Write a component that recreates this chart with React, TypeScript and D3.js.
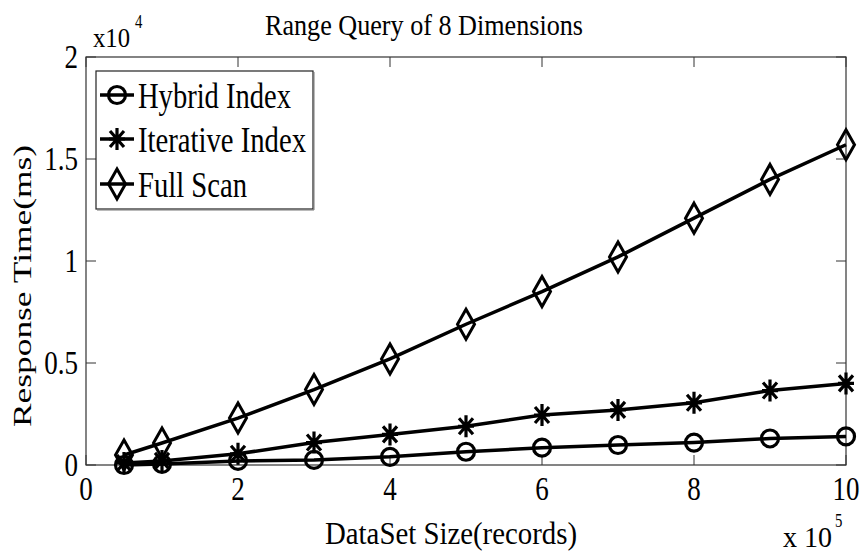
import { scaleLinear, line } from 'd3'

// Range query response time vs dataset size, 8 dimensions.
// Matlab-style figure: boxed axes, inward ticks, black lines with markers.

const sizes = [0.5, 1, 2, 3, 4, 5, 6, 7, 8, 9, 10] // x 10^5 records
const hybrid = [0.0, 0.005, 0.02, 0.025, 0.04, 0.065, 0.085, 0.098, 0.11, 0.13, 0.14] // x 10^4 ms
const iterative = [0.01, 0.02, 0.055, 0.11, 0.15, 0.19, 0.245, 0.27, 0.305, 0.365, 0.4]
const fullScan = [0.049, 0.108, 0.23, 0.37, 0.52, 0.69, 0.85, 1.02, 1.21, 1.4, 1.57]
const xTicks = [0, 2, 4, 6, 8, 10]
const yTicks = [0, 0.5, 1, 1.5, 2]
const yTickLabels = ['0', '0.5', '1', '1.5', '2']

const FONT = 'Liberation Serif'
const INK = '#000'
const SX = 0.82 // the figure is squeezed horizontally

type Marker = 'circle' | 'star' | 'diamond'

const series: { name: string; values: number[]; marker: Marker; w: number }[] = [
  { name: 'Hybrid Index', values: hybrid, marker: 'circle', w: 153 },
  { name: 'Iterative Index', values: iterative, marker: 'star', w: 168 },
  { name: 'Full Scan', values: fullScan, marker: 'diamond', w: 109 },
]

function Txt({
  x,
  y,
  size,
  anchor = 'start',
  rotate = 0,
  sx = SX,
  w,
  children,
}: {
  x: number
  y: number
  size: number
  anchor?: 'start' | 'middle' | 'end'
  rotate?: number
  sx?: number
  w?: number
  children: React.ReactNode
}) {
  // with a fixed length the glyphs are squeezed by textLength instead
  const scale = w ? '' : ` scale(${sx},1)`
  const tf = rotate ? `translate(${x},${y}) rotate(${rotate})` : `translate(${x},${y})${scale}`
  return (
    <text
      transform={tf}
      textAnchor={anchor}
      fontSize={size}
      fontFamily={FONT}
      fill={INK}
      textLength={w}
      lengthAdjust={w ? 'spacingAndGlyphs' : undefined}
    >
      {children}
    </text>
  )
}

function MarkerShape({ kind, x, y }: { kind: Marker; x: number; y: number }) {
  if (kind === 'circle')
    return <circle cx={x} cy={y} r={8.5} fill="none" stroke={INK} strokeWidth={3.2} />
  if (kind === 'diamond')
    return (
      <path
        d={`M${x},${y - 15}L${x + 8.5},${y}L${x},${y + 15}L${x - 8.5},${y}Z`}
        fill="none"
        stroke={INK}
        strokeWidth={3}
      />
    )
  return (
    <path
      d={`M${x},${y - 11}V${y + 11}M${x - 8},${y}H${x + 8}M${x - 7},${y - 8}L${x + 7},${y + 8}M${x - 7},${y + 8}L${x + 7},${y - 8}`}
      stroke={INK}
      strokeWidth={3.2}
    />
  )
}

export default function App() {
  const width = 860
  const height = 556
  const m = { left: 86, right: 14, top: 57, bottom: 91 }
  const x = scaleLinear().domain([0, 10]).range([m.left, width - m.right])
  const y = scaleLinear().domain([0, 2]).range([height - m.bottom, m.top])
  const x0 = x(0)
  const x1 = x(10)
  const y0 = y(0)
  const y1 = y(2)
  const tick = 10

  const path = line<number>()
    .x((_, i) => x(sizes[i]))
    .y((d) => y(d))

  const legend = { x: 96, y: 71, w: 217, h: 138 }
  const rowY = [95, 139, 184]

  return (
    <svg
      width={width}
      height={height}
      viewBox={`0 0 ${width} ${height}`}
      style={{ display: 'block', position: 'absolute', left: 0, top: 0, background: '#fff' }}
    >
      <Txt x={424} y={35} size={30} anchor="middle" w={318}>
        Range Query of 8 Dimensions
      </Txt>

      {/* axes box */}
      <rect x={x0} y={y1} width={x1 - x0} height={y0 - y1} fill="none" stroke="#333" strokeWidth={1.2} />
      {xTicks.map((t) => (
        <g key={`x${t}`}>
          <line x1={x(t)} x2={x(t)} y1={y0} y2={y0 - tick} stroke="#333" strokeWidth={1} />
          <line x1={x(t)} x2={x(t)} y1={y1} y2={y1 + tick} stroke="#333" strokeWidth={1} />
          <Txt x={x(t)} y={500} size={33} anchor="middle">
            {t}
          </Txt>
        </g>
      ))}
      {yTicks.map((t, i) => (
        <g key={`y${t}`}>
          <line x1={x0} x2={x0 + tick} y1={y(t)} y2={y(t)} stroke="#333" strokeWidth={1} />
          <line x1={x1} x2={x1 - tick} y1={y(t)} y2={y(t)} stroke="#333" strokeWidth={1} />
          <Txt x={78} y={y(t) + 11} size={33} anchor="end">
            {yTickLabels[i]}
          </Txt>
        </g>
      ))}

      {/* exponent labels */}
      <Txt x={93} y={47} size={27} w={37}>
        x10
      </Txt>
      <Txt x={135} y={28} size={18}>
        4
      </Txt>
      <Txt x={783} y={547} size={30} w={49}>
        x 10
      </Txt>
      <Txt x={835} y={527} size={18}>
        5
      </Txt>

      {/* axis titles */}
      <Txt x={451} y={544} size={31} anchor="middle" w={252}>
        DataSet Size(records)
      </Txt>
      <text
        transform="translate(31,286) rotate(-90) scale(1,0.76)"
        textAnchor="middle"
        fontSize={34}
        fontFamily={FONT}
        fill={INK}
        textLength={282}
        lengthAdjust="spacingAndGlyphs"
      >
        Response Time(ms)
      </text>

      {/* series */}
      {series.map((s) => (
        <g key={s.name}>
          <path d={path(s.values) ?? ''} fill="none" stroke={INK} strokeWidth={3.5} strokeLinejoin="round" />
          {s.values.map((v, i) => (
            <MarkerShape key={i} kind={s.marker} x={x(sizes[i])} y={y(v)} />
          ))}
        </g>
      ))}

      {/* legend */}
      <rect x={legend.x} y={legend.y} width={legend.w} height={legend.h} fill="#fff" stroke="#222" strokeWidth={1.2} />
      <path
        d={`M${legend.x + 1},${legend.y + legend.h + 1}H${legend.x + legend.w + 1}V${legend.y + 1}`}
        fill="none"
        stroke="#777"
        strokeWidth={1}
      />
      {series.map((s, i) => (
        <g key={`lg${s.name}`}>
          <line x1={100} x2={134} y1={rowY[i]} y2={rowY[i]} stroke={INK} strokeWidth={3.5} />
          <MarkerShape kind={s.marker} x={117} y={rowY[i]} />
          <Txt x={138} y={rowY[i] + 13} size={36} w={s.w}>
            {s.name}
          </Txt>
        </g>
      ))}
    </svg>
  )
}
